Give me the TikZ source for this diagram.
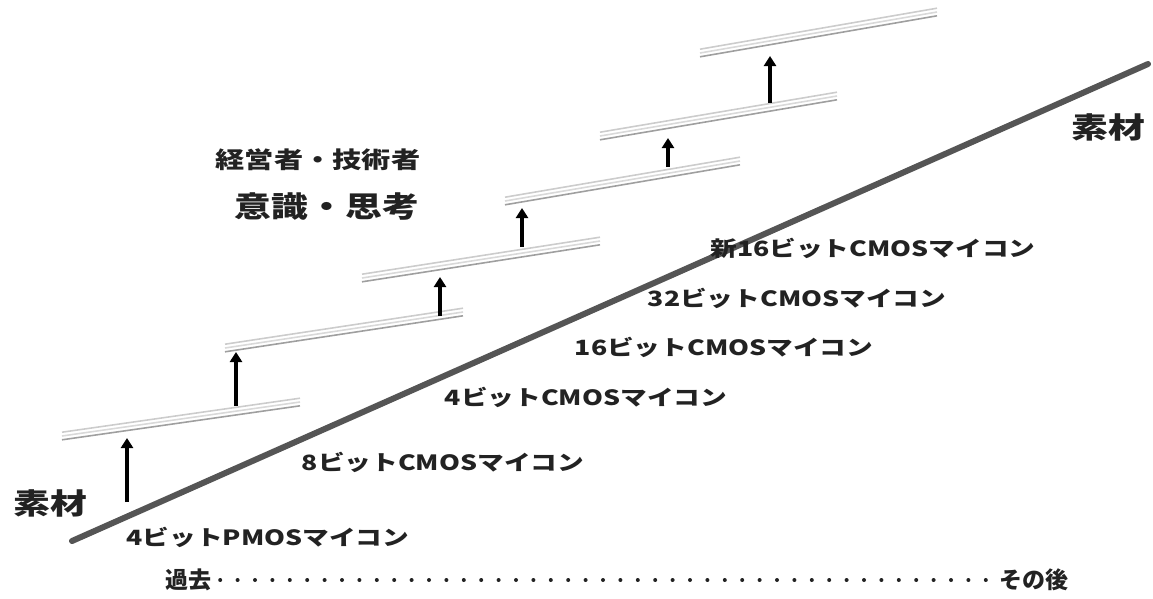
\documentclass[tikz,border=0pt]{standalone}
\usepackage{fontspec}
\usetikzlibrary{arrows.meta}
\newfontfamily\jp{Noto Sans CJK JP}[FakeStretch=1.27]
\newfontfamily\jpn{Noto Sans CJK JP}
\definecolor{ink}{HTML}{222222}
\definecolor{rail}{HTML}{555555}
\tikzset{
  lbl/.style={font=\jp\bfseries\fontsize{21}{21}\selectfont, text=ink, inner sep=0pt},
  big/.style={font=\jp\bfseries\fontsize{29}{29}\selectfont, text=ink, inner sep=0pt},
  rise/.style={line width=3.6pt, draw=black, -{Triangle[width=12pt,length=10pt]}},
  steprail/.style={line width=1.6pt, draw=gray!60},
}
\newcommand{\stepbar}[4]{%
  \draw[steprail,draw=gray!40] (#1,#2-3.8) -- (#3,#4-3.8);
  \draw[steprail,draw=gray!30] (#1,#2) -- (#3,#4);
  \draw[steprail,draw=gray!75] (#1,#2+3.8) -- (#3,#4+3.8);}
\begin{document}
\begin{tikzpicture}[x=1pt,y=-1pt]
\useasboundingbox (0,0) rectangle (1153,598);
% main rail
\coordinate (r0) at (72,541);
\coordinate (r1) at (1148,64);
\draw[line width=6pt, draw=rail, line cap=round] (r0) -- (r1);
% steps
\stepbar{62}{436}{300}{402}
\stepbar{225}{348}{463}{312}
\stepbar{362}{278}{600}{241}
\stepbar{505}{201}{740}{161}
\stepbar{600}{136}{837}{96}
\stepbar{700}{53}{937}{12}
% arrows
\coordinate (a1s) at (127,502); \coordinate (a1e) at (127,438);
\coordinate (a2s) at (236,406); \coordinate (a2e) at (236,352);
\coordinate (a3s) at (440,316); \coordinate (a3e) at (440,277);
\coordinate (a4s) at (522,247); \coordinate (a4e) at (522,208);
\coordinate (a5s) at (668,167); \coordinate (a5e) at (668,138);
\coordinate (a6s) at (770,103); \coordinate (a6e) at (770,56);
\foreach \i in {1,...,6} \draw[rise] (a\i s) -- (a\i e);
% labels
\node[big] (matL) at (50,503) {素材};
\node[big] (matR) at (1108,127) {素材};
\node[lbl, font=\jp\bfseries\fontsize{23}{23}\selectfont] (mgr) at (318,160) {経営者・技術者};
\node[big] (mind) at (327,207) {意識・思考};
\node[lbl] (n6) at (873,248) {新16ビットCMOSマイコン};
\node[lbl] (n5) at (797,298) {32ビットCMOSマイコン};
\node[lbl] (n4) at (724,347) {16ビットCMOSマイコン};
\node[lbl] (n3) at (586,397) {4ビットCMOSマイコン};
\node[lbl] (n2) at (443,462) {8ビットCMOSマイコン};
\node[lbl] (n1) at (268,537) {4ビットPMOSマイコン};
\node[lbl, font=\jpn\bfseries\fontsize{23}{23}\selectfont] (past) at (188,580) {過去};
\node[lbl, font=\jpn\bfseries\fontsize{23}{23}\selectfont] (after) at (1034,580) {その後};
\draw[line width=4pt, ink, line cap=round, dash pattern=on 0pt off 17.4pt, shorten <=9pt, shorten >=9pt] (past.east) -- (after.west);
\end{tikzpicture}
\end{document}
